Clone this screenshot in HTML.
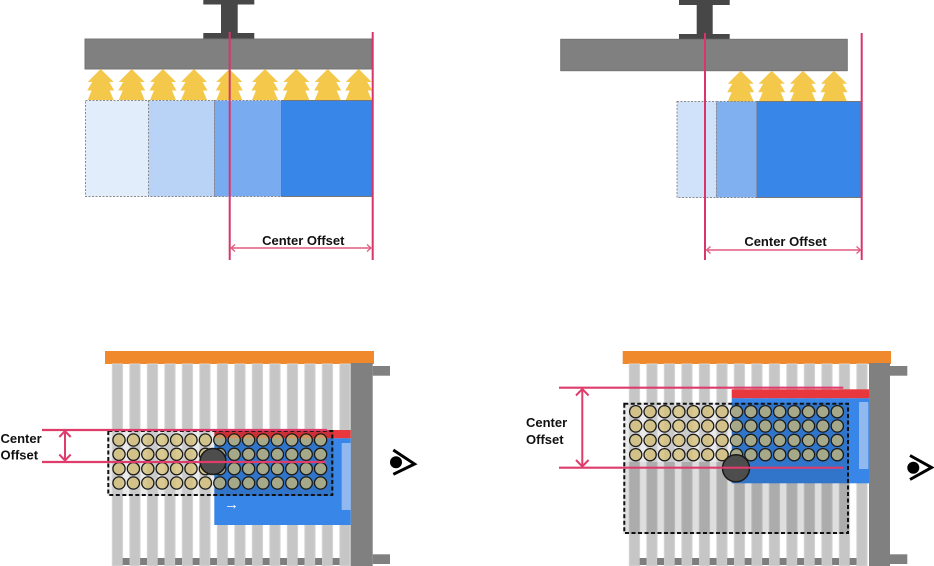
<!DOCTYPE html>
<html><head><meta charset="utf-8"><style>
html,body{margin:0;padding:0;background:#fff;}
svg{display:block;}
text{font-family:"Liberation Sans",Arial,sans-serif;font-weight:bold;font-size:13px;fill:#111;}
</style></head><body>
<svg width="934" height="566" viewBox="0 0 934 566" xmlns="http://www.w3.org/2000/svg">
<defs>
  <polygon id="arr" points="0,0 13,13 8.5,13 13.5,21.5 9,21.5 13,31 -13,31 -9,21.5 -13.5,21.5 -8.5,13 -13,13" fill="#f3c84b"/>
  <g id="rowBL" fill="rgba(212,190,112,0.72)" stroke="#1a1a1a" stroke-width="1.3">
    <circle cx="119" cy="0" r="6.1"/><circle cx="133.4" cy="0" r="6.1"/><circle cx="147.8" cy="0" r="6.1"/>
    <circle cx="162.2" cy="0" r="6.1"/><circle cx="176.6" cy="0" r="6.1"/><circle cx="191" cy="0" r="6.1"/>
    <circle cx="205.4" cy="0" r="6.1"/><circle cx="219.8" cy="0" r="6.1"/><circle cx="234.2" cy="0" r="6.1"/>
    <circle cx="248.6" cy="0" r="6.1"/><circle cx="263" cy="0" r="6.1"/><circle cx="277.4" cy="0" r="6.1"/>
    <circle cx="291.8" cy="0" r="6.1"/><circle cx="306.2" cy="0" r="6.1"/><circle cx="320.6" cy="0" r="6.1"/>
  </g>
</defs>

<!-- ============ TOP LEFT ============ -->
<rect x="203.3" y="0" width="51" height="4.5" fill="#474747"/>
<rect x="221" y="4" width="16.7" height="30" fill="#474747"/>
<rect x="203.3" y="33" width="51" height="6" fill="#474747"/>
<rect x="85" y="39" width="286.7" height="30" fill="#808080" stroke="#747474" stroke-width="1"/>
<g>
  <use href="#arr" x="100.7" y="69"/>
  <use href="#arr" x="131.7" y="69"/>
  <use href="#arr" x="163" y="69"/>
  <use href="#arr" x="194" y="69"/>
  <use href="#arr" x="229.3" y="69"/>
  <use href="#arr" x="265" y="69"/>
  <use href="#arr" x="296.3" y="69"/>
  <use href="#arr" x="327.7" y="69"/>
  <use href="#arr" x="358.7" y="69"/>
</g>
<rect x="85.5" y="100.5" width="63" height="96" fill="#e2edfc" stroke="#8a8a8a" stroke-width="1" stroke-dasharray="2 1.5"/>
<rect x="148.5" y="100.5" width="66" height="96" fill="#b9d3f7" stroke="#8a8a8a" stroke-width="1" stroke-dasharray="2 1.5"/>
<rect x="214.5" y="100.5" width="67" height="96" fill="#79abf0" stroke="#8a8a8a" stroke-width="1" stroke-dasharray="2 1.5"/>
<rect x="281.5" y="100.5" width="90.5" height="96" fill="#3886e8" stroke="#777" stroke-width="1"/>
<line x1="229.7" y1="32" x2="229.7" y2="260" stroke="#d8356a" stroke-width="2"/>
<line x1="372.7" y1="32" x2="372.7" y2="260" stroke="#d8356a" stroke-width="2"/>
<line x1="231" y1="248" x2="371" y2="248" stroke="#e05c80" stroke-width="1.5"/>
<polyline points="235,244.5 231,248 235,251.5" fill="none" stroke="#e05c80" stroke-width="1.3"/>
<polyline points="367,244.5 371,248 367,251.5" fill="none" stroke="#e05c80" stroke-width="1.3"/>
<text x="303.3" y="245" text-anchor="middle">Center Offset</text>

<!-- ============ TOP RIGHT ============ -->
<rect x="679" y="0" width="50.7" height="5" fill="#474747"/>
<rect x="696.7" y="4" width="16" height="31" fill="#474747"/>
<rect x="679" y="34" width="50.7" height="5.3" fill="#474747"/>
<rect x="560.7" y="39.3" width="286.6" height="31.4" fill="#808080" stroke="#747474" stroke-width="1"/>
<g>
  <use href="#arr" x="740.7" y="70.7"/>
  <use href="#arr" x="771.7" y="70.7"/>
  <use href="#arr" x="803" y="70.7"/>
  <use href="#arr" x="834" y="70.7"/>
</g>
<rect x="677" y="101.5" width="39.5" height="96" fill="#d0e2fa" stroke="#8a8a8a" stroke-width="1" stroke-dasharray="2 1.5"/>
<rect x="716.5" y="101.5" width="40.5" height="96" fill="#80b0f0" stroke="#8a8a8a" stroke-width="1" stroke-dasharray="2 1.5"/>
<rect x="757" y="101.5" width="104" height="96" fill="#3886e8" stroke="#777" stroke-width="1"/>
<line x1="705" y1="33" x2="705" y2="260" stroke="#d8356a" stroke-width="2"/>
<line x1="861.7" y1="33" x2="861.7" y2="260" stroke="#d8356a" stroke-width="2"/>
<line x1="706.5" y1="250" x2="860.5" y2="250" stroke="#e05c80" stroke-width="1.5"/>
<polyline points="710.5,246.5 706.5,250 710.5,253.5" fill="none" stroke="#e05c80" stroke-width="1.3"/>
<polyline points="856.5,246.5 860.5,250 856.5,253.5" fill="none" stroke="#e05c80" stroke-width="1.3"/>
<text x="785.5" y="246" text-anchor="middle">Center Offset</text>

<!-- ============ BOTTOM LEFT ============ -->
<rect x="105" y="351" width="269" height="13" fill="#f0892b"/>
<g fill="#c6c6c6" stroke="#d6d6d6" stroke-width="1">
  <rect x="112.3" y="364" width="10.3" height="202"/>
  <rect x="129.8" y="364" width="10.3" height="202"/>
  <rect x="147.3" y="364" width="10.3" height="202"/>
  <rect x="164.8" y="364" width="10.3" height="202"/>
  <rect x="182.3" y="364" width="10.3" height="202"/>
  <rect x="199.8" y="364" width="10.3" height="202"/>
  <rect x="217.3" y="364" width="10.3" height="202"/>
  <rect x="234.8" y="364" width="10.3" height="202"/>
  <rect x="252.3" y="364" width="10.3" height="202"/>
  <rect x="269.8" y="364" width="10.3" height="202"/>
  <rect x="287.3" y="364" width="10.3" height="202"/>
  <rect x="304.8" y="364" width="10.3" height="202"/>
  <rect x="322.3" y="364" width="10.3" height="202"/>
  <rect x="339.8" y="364" width="10.3" height="202"/>
</g>
<g fill="#7e7e7e">
  <rect x="122.6" y="558" width="7" height="7"/>
  <rect x="140.1" y="558" width="7" height="7"/>
  <rect x="157.6" y="558" width="7" height="7"/>
  <rect x="175.1" y="558" width="7" height="7"/>
  <rect x="192.6" y="558" width="7" height="7"/>
  <rect x="210.1" y="558" width="7" height="7"/>
  <rect x="227.6" y="558" width="7" height="7"/>
  <rect x="245.1" y="558" width="7" height="7"/>
  <rect x="262.6" y="558" width="7" height="7"/>
  <rect x="280.1" y="558" width="7" height="7"/>
  <rect x="297.6" y="558" width="7" height="7"/>
  <rect x="315.1" y="558" width="7" height="7"/>
  <rect x="332.6" y="558" width="7" height="7"/>
</g>
<rect x="350.7" y="363" width="22" height="203" fill="#808080"/>
<rect x="372.7" y="366" width="17.3" height="9.7" fill="#808080"/>
<rect x="372.7" y="554.3" width="17.3" height="9.7" fill="#808080"/>
<rect x="214.3" y="430" width="136.4" height="8.3" fill="#e8383e"/>
<rect x="214.3" y="438.3" width="136.4" height="86.7" fill="#3887e8"/>
<rect x="341.7" y="443" width="9" height="67" fill="#92b9ef"/>
<text x="224" y="509" style="fill:#fff;font-weight:normal;font-size:15px;">→</text>
<rect x="107.3" y="430" width="226" height="66" fill="rgba(0,0,0,0.13)"/>
<rect x="107.3" y="430" width="107" height="66" fill="rgba(255,255,255,0.38)"/>
<use href="#rowBL" y="440"/>
<use href="#rowBL" y="454.3"/>
<use href="#rowBL" y="468.7"/>
<use href="#rowBL" y="483"/>
<rect x="108.3" y="431" width="224" height="64" fill="none" stroke="#111" stroke-width="2" stroke-dasharray="4 2.5"/>
<circle cx="213" cy="461.5" r="13" fill="#4d4d4d" stroke="#1a1a1a" stroke-width="1.5"/>
<line x1="42" y1="430" x2="327" y2="430" stroke="#de3d6c" stroke-width="2.2"/>
<line x1="42" y1="462" x2="326" y2="462" stroke="#de3d6c" stroke-width="2.2"/>
<line x1="65" y1="431" x2="65" y2="461" stroke="#de3d6c" stroke-width="2"/>
<polyline points="59.3,437 65,431 70.7,437" fill="none" stroke="#de3d6c" stroke-width="2"/>
<polyline points="59.3,454.5 65,460.5 70.7,454.5" fill="none" stroke="#de3d6c" stroke-width="2"/>
<text x="0.5" y="443">Center</text>
<text x="0.5" y="459.5">Offset</text>
<circle cx="396" cy="462.3" r="6" fill="#000"/>
<polyline points="393.3,450 414.5,464 393.3,474.3" fill="none" stroke="#000" stroke-width="3"/>

<!-- ============ BOTTOM RIGHT ============ -->
<rect x="622.7" y="351" width="268.3" height="13" fill="#f0892b"/>
<g fill="#c6c6c6" stroke="#d6d6d6" stroke-width="1">
  <rect x="629.3" y="364" width="10.3" height="202"/>
  <rect x="646.8" y="364" width="10.3" height="202"/>
  <rect x="664.3" y="364" width="10.3" height="202"/>
  <rect x="681.8" y="364" width="10.3" height="202"/>
  <rect x="699.3" y="364" width="10.3" height="202"/>
  <rect x="716.8" y="364" width="10.3" height="202"/>
  <rect x="734.3" y="364" width="10.3" height="202"/>
  <rect x="751.8" y="364" width="10.3" height="202"/>
  <rect x="769.3" y="364" width="10.3" height="202"/>
  <rect x="786.8" y="364" width="10.3" height="202"/>
  <rect x="804.3" y="364" width="10.3" height="202"/>
  <rect x="821.8" y="364" width="10.3" height="202"/>
  <rect x="839.3" y="364" width="10.3" height="202"/>
  <rect x="856.8" y="364" width="10.3" height="202"/>
</g>
<g fill="#7e7e7e">
  <rect x="639.6" y="558" width="7" height="7"/>
  <rect x="657.1" y="558" width="7" height="7"/>
  <rect x="674.6" y="558" width="7" height="7"/>
  <rect x="692.1" y="558" width="7" height="7"/>
  <rect x="709.6" y="558" width="7" height="7"/>
  <rect x="727.1" y="558" width="7" height="7"/>
  <rect x="744.6" y="558" width="7" height="7"/>
  <rect x="762.1" y="558" width="7" height="7"/>
  <rect x="779.6" y="558" width="7" height="7"/>
  <rect x="797.1" y="558" width="7" height="7"/>
  <rect x="814.6" y="558" width="7" height="7"/>
  <rect x="832.1" y="558" width="7" height="7"/>
  <rect x="849.6" y="558" width="7" height="7"/>
</g>
<rect x="869" y="363" width="21" height="203" fill="#808080"/>
<rect x="890" y="366" width="17.3" height="9.7" fill="#808080"/>
<rect x="890" y="554.3" width="17.3" height="9.7" fill="#808080"/>
<rect x="731.7" y="389.3" width="137.3" height="9" fill="#e8383e"/>
<rect x="731.7" y="398.3" width="137.3" height="85" fill="#3887e8"/>
<rect x="859" y="402" width="9.3" height="67" fill="#92b9ef"/>
<rect x="623.3" y="402.7" width="225.7" height="131.3" fill="rgba(0,0,0,0.13)"/>
<rect x="623.3" y="402.7" width="108.4" height="59.3" fill="rgba(255,255,255,0.38)"/>
<use href="#rowBL" x="516.7" y="411.7"/>
<use href="#rowBL" x="516.7" y="426"/>
<use href="#rowBL" x="516.7" y="440.4"/>
<use href="#rowBL" x="516.7" y="454.7"/>
<rect x="624.3" y="403.7" width="223.7" height="129.3" fill="none" stroke="#111" stroke-width="2" stroke-dasharray="4 2.5"/>
<circle cx="736" cy="468.3" r="13.5" fill="#4d4d4d" stroke="#1a1a1a" stroke-width="1.5"/>
<line x1="559" y1="387.7" x2="843.3" y2="387.7" stroke="#de3d6c" stroke-width="2.2"/>
<line x1="559" y1="467.7" x2="843.3" y2="467.7" stroke="#de3d6c" stroke-width="2.2"/>
<line x1="582.3" y1="389" x2="582.3" y2="466.5" stroke="#de3d6c" stroke-width="2"/>
<polyline points="576,395.5 582.3,389 588.6,395.5" fill="none" stroke="#de3d6c" stroke-width="2"/>
<polyline points="576,460 582.3,466.5 588.6,460" fill="none" stroke="#de3d6c" stroke-width="2"/>
<text x="526" y="427">Center</text>
<text x="526" y="444">Offset</text>
<circle cx="913.3" cy="467.7" r="6" fill="#000"/>
<polyline points="910,455.5 931.5,467.5 910,479.5" fill="none" stroke="#000" stroke-width="3"/>
</svg>
</body></html>
